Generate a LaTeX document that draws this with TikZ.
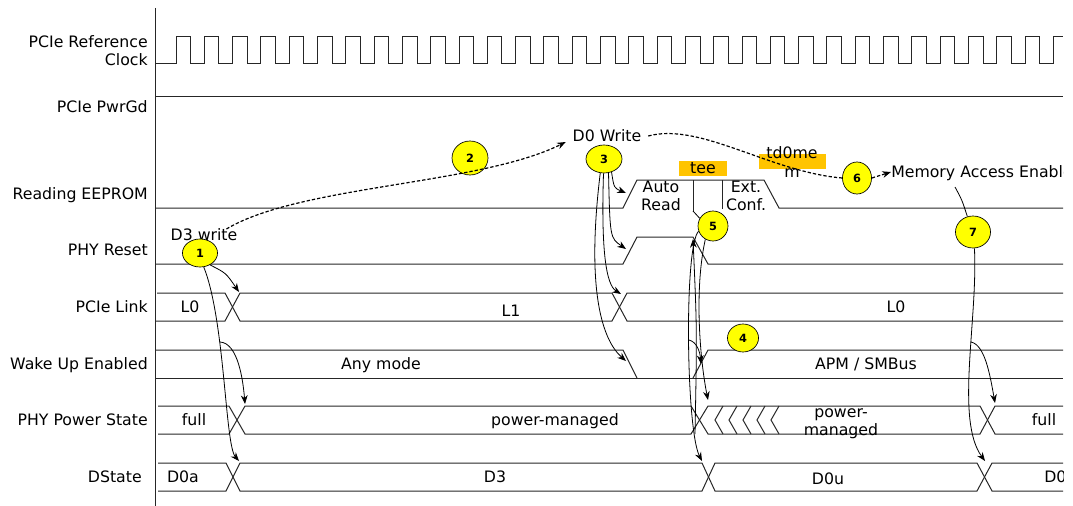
\documentclass[tikz,border=0pt]{standalone}
\usepackage{fontspec}
\setmainfont{DejaVu Sans}
\usepackage{tikz}
\usetikzlibrary{arrows.meta,shapes.geometric}

\definecolor{evyellow}{RGB}{255,255,0}
\definecolor{tbox}{RGB}{255,196,0}

\tikzset{
  sig/.style={black!85, line width=0.75pt},
  conn/.style={black, line width=0.6pt, -{Stealth[length=6.5pt,width=5pt]}},
  link/.style={black, line width=0.6pt},
  msg/.style={black, line width=0.9pt, dash pattern=on 2.5pt off 1.5pt},
  ev/.style={ellipse, draw=black, line width=0.5pt, fill=evyellow, font=\bfseries\fontsize{8.5}{10}\selectfont},
  lab/.style={text height=8.6pt, text depth=0pt},
}

\begin{document}
\begin{tikzpicture}[x=0.75pt, y=0.75pt]
	\tikzstyle{every node}+=[inner sep=0pt, font=\fontsize{11.8}{13.7}\selectfont]
	\useasboundingbox (0,0) rectangle (1073,-506);
	\clip (0,0) rectangle (1063.5,-506);
	% signal names
	\draw[sig] (155,-8) -- (155,-506);
	\node[anchor=east, align=right] (lClk) at (148,-51) {PCIe Reference\\Clock};
	\node[lab, anchor=east] (lPwr) at (148,-107) {PCIe PwrGd};
	\node[lab, anchor=east] (lRom) at (148,-194) {Reading EEPROM};
	\node[lab, anchor=east] (lRst) at (148,-250) {PHY Reset};
	\node[lab, anchor=east] (lLnk) at (148,-307) {PCIe Link};
	\node[lab, anchor=east] (lWak) at (148,-364) {Wake Up Enabled};
	\node[lab, anchor=east] (lPhy) at (148,-420) {PHY Power State};
	\node[lab, anchor=east] (lDst) at (142,-477) {DState};
	% waveforms
	\draw[sig] (155,-64) -- (176,-64)
		\foreach \k in {1,...,31} { -- ++(0,27) -- ++(14.6,0) -- ++(0,-27) -- ++(13.7,0) }
		-- ++(0,27) -- (1063,-37);
	\draw[sig] (155,-97) -- (1063,-97);
	\draw[sig] (155,-208) -- (623,-208) -- (637,-180) -- (764,-180) -- (779,-208) -- (1063,-208);
	\coordinate (tee1) at (693,-211);
	\draw[sig] (693,-180) -- (tee1);
	\draw[sig] (722,-180) -- (722,-209);
	\draw[sig] (155,-264) -- (623,-264) -- (637,-237) -- (693,-237) -- (708,-264) -- (1063,-264);
	\draw[sig] (157,-293) -- (225,-293) -- (240,-321) -- (612,-321) -- (627,-293) -- (1063,-293);
	\draw[sig] (155,-321) -- (225,-321) -- (240,-293) -- (612,-293) -- (627,-321) -- (1063,-321);
	\draw[sig] (155,-350) -- (623,-350) -- (637,-378);
	\draw[sig] (155,-378) -- (1063,-378);
	\draw[sig] (693,-378) -- (708,-350) -- (1063,-350);
	\draw[sig] (158,-406) -- (229,-406) -- (245,-434) -- (691,-434) -- (708,-406) -- (980,-406) -- (995,-434) -- (1063,-434);
	\draw[sig] (158,-434) -- (229,-434) -- (245,-406) -- (691,-406) -- (708,-434) -- (980,-434) -- (995,-406) -- (1063,-406);
	\foreach \x in {715,729,743,757,771}
		\draw[sig] (\x+8,-406) -- (\x,-420) -- (\x+8,-434);
	\draw[sig] (158,-463) -- (226,-463) -- (240,-491) -- (702,-491) -- (715,-463) -- (977,-463) -- (992,-491) -- (1063,-491);
	\draw[sig] (158,-491) -- (226,-491) -- (240,-463) -- (702,-463) -- (715,-491) -- (977,-491) -- (992,-463) -- (1063,-463);
	% values
	\node[align=center] (tAuto) at (661,-196) {Auto\\Read};
	\node[align=center] (tExt) at (746,-196) {Ext.\\Conf.};
	\fill[tbox] (679,-161) rectangle (727,-176);
	\fill[tbox] (759,-154) rectangle (826,-169);
	\node[lab] (tTee) at (703,-168) {tee};
	\node[align=center] (tMem) at (792,-162) {td0me\\m};
	\node[lab] (tL0a) at (190,-307) {L0};
	\node[lab] (tL1) at (511,-311) {L1};
	\node[lab] (tL0b) at (896,-307) {L0};
	\node[lab] (tAny) at (381,-364) {Any mode};
	\node[lab] (tApm) at (866,-364) {APM / SMBus};
	\node[lab] (tFullA) at (194,-420) {full};
	\node[lab] (tPm) at (555,-420) {power-managed};
	\node[align=center] (tPm2) at (841,-424) {power-\\managed};
	\node[lab] (tFullB) at (1044,-420) {full};
	\node[lab] (tD0a) at (183,-477) {D0a};
	\node[lab] (tD3) at (495,-477) {D3};
	\node[lab] (tD0u) at (828,-479) {D0u};
	\node[lab, anchor=west] (tD0b) at (1044,-477) {D0};
	% events
	\node[lab] (d3w) at (204,-235) {D3 write};
	\node[lab, inner xsep=5pt] (d0w) at (607,-136) {D0 Write};
	\node[lab, anchor=west] (mae) at (891,-172) {Memory Access Enable};
	\node[ev, minimum width=26.3pt, minimum height=21pt] (n1) at (200,-253) {1};
	\node[ev, minimum width=27pt, minimum height=25.5pt] (n2) at (470,-158) {2};
	\node[ev, minimum width=27pt, minimum height=21pt] (n3) at (604,-159) {3};
	\node[ev, minimum width=23.3pt, minimum height=21pt] (n4) at (743,-338) {4};
	\node[ev, minimum width=22.5pt, minimum height=22.5pt] (n5) at (713,-226) {5};
	\node[ev, minimum width=21.8pt, minimum height=24pt] (n6) at (857,-178) {6};
	\node[ev, minimum width=26.3pt, minimum height=24pt] (n7) at (973,-232) {7};
	% messages
	\draw[msg, -{Stealth[length=6.5pt,width=5pt]}] (d3w.15) .. controls (300,-185) and (480,-185) .. (d0w.south west);
	\draw[msg] (d0w.east) .. controls (700,-122) and (770,-172) .. (n6.west);
	\draw[msg, -{Stealth[length=6.5pt,width=5pt]}] (n6.east) .. controls (878,-176) .. (mae.west);
	% event 1
	\coordinate (l1) at (239,-292);
	\coordinate (b1) at (220,-342);
	\coordinate (p1) at (245,-404);
	\coordinate (d1) at (239,-461);
	\draw[conn] (n1.-50) .. controls (226,-273) .. (l1);
	\draw[conn] (n1.-75) .. controls (225,-320) and (225,-445) .. (d1);
	\draw[conn] (b1) .. controls (238,-343) and (243,-380) .. (p1);
	% event 3
	\coordinate (e3) at (626,-193);
	\coordinate (r3) at (626,-249);
	\coordinate (k3) at (621,-294);
	\coordinate (w3) at (626,-361);
	\draw[conn] (n3.-60) .. controls (614,-188) .. (e3);
	\draw[conn] (n3.-72) .. controls (610,-238) .. (r3);
	\draw[conn] (n3.-92) .. controls (601,-250) and (606,-285) .. (k3);
	\draw[conn] (n3.-105) .. controls (586,-290) and (602,-340) .. (w3);
	% event 5
	\coordinate (d5) at (702,-461);
	\coordinate (b5) at (689,-340);
	\coordinate (w5) at (701,-364);
	\coordinate (p5) at (708,-400);
	\coordinate (r5) at (693,-239);
	\coordinate (u5) at (695,-434);
	\draw[link] (tee1) -- (n5.150);
	\draw[conn] (n5.200) .. controls (684,-245) and (686,-430) .. (d5);
	\draw[conn] (b5) .. controls (697,-342) and (700,-352) .. (w5);
	\draw[conn] (n5.240) .. controls (694,-290) and (700,-360) .. (p5);
	\draw[conn] (u5) .. controls (697,-330) .. (r5);
	% event 7
	\coordinate (m7) at (955,-187);
	\coordinate (b7) at (971,-342);
	\coordinate (p7) at (995,-403);
	\coordinate (d7) at (985,-461);
	\draw[link] (m7) .. controls (962,-200) .. (n7.110);
	\draw[conn] (n7.-85) .. controls (978,-320) and (955,-420) .. (d7);
	\draw[conn] (b7) .. controls (985,-345) and (990,-375) .. (p7);
\end{tikzpicture}
\end{document}
